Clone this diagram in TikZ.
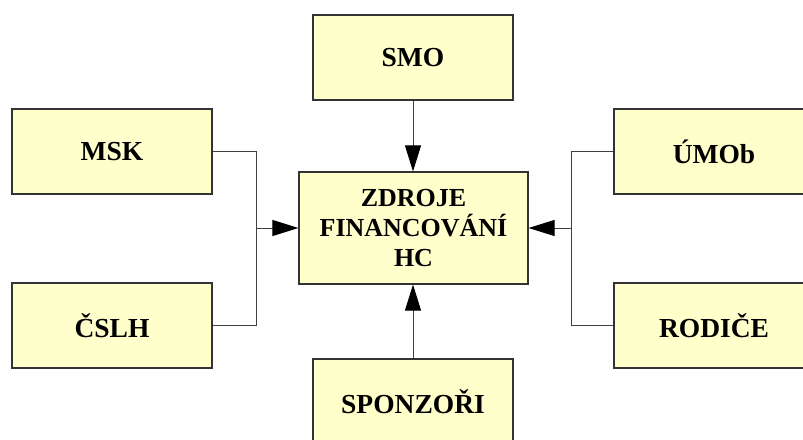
\documentclass[tikz,border=0pt]{standalone}
\usepackage{fontspec}
\setmainfont{Liberation Serif}
\usetikzlibrary{arrows.meta}
\definecolor{boxfill}{HTML}{FFFFCC}
\definecolor{boxline}{HTML}{333333}
\definecolor{conline}{HTML}{404040}
\begin{document}
\begin{tikzpicture}[x=1pt,y=-1pt,
  box/.style={draw=boxline, line width=1.2pt, fill=boxfill, inner sep=0pt,
    minimum width=200pt, minimum height=85pt, align=center,
    font=\fontsize{27.5}{30}\selectfont\bfseries},
  con/.style={draw=conline, line width=1pt},
  arr/.style={con, -{Triangle[length=26pt,width=16pt,black]}}]
\useasboundingbox (0,0) rectangle (803,439);
\clip (0,0) rectangle (803,439);
\fill[white] (0,0) rectangle (803,439);
\node[box] (smo) at (413,57.5) {SMO};
\node[box] (msk) at (112,151.5) {MSK};
\node[box] (cslh) at (112,325.5) {ČSLH};
\node[box] (umob) at (714,151.5) {ÚMOb};
\node[box] (rodice) at (714,325.5) {RODIČE};
\node[box] (sponzori) at (413,401.5) {SPONZOŘI};
\node[box, minimum width=229pt, minimum height=112pt,
  font=\fontsize{26}{30}\selectfont\bfseries] (zdroje) at (413.5,228) {ZDROJE\\FINANCOVÁNÍ\\HC};
\coordinate (lj) at (256,228);
\coordinate (rj) at (571,228);
\draw[con] (msk.east) -- (msk.east -| lj) -- (cslh.east -| lj) -- (cslh.east);
\draw[con] (umob.west) -- (umob.west -| rj) -- (rodice.west -| rj) -- (rodice.west);
\draw[arr] (lj) -- (zdroje.west);
\draw[arr] (rj) -- (zdroje.east);
\draw[arr] (smo.south) -- (smo.south |- zdroje.north);
\draw[arr] (sponzori.north) -- (sponzori.north |- zdroje.south);
\end{tikzpicture}
\end{document}
